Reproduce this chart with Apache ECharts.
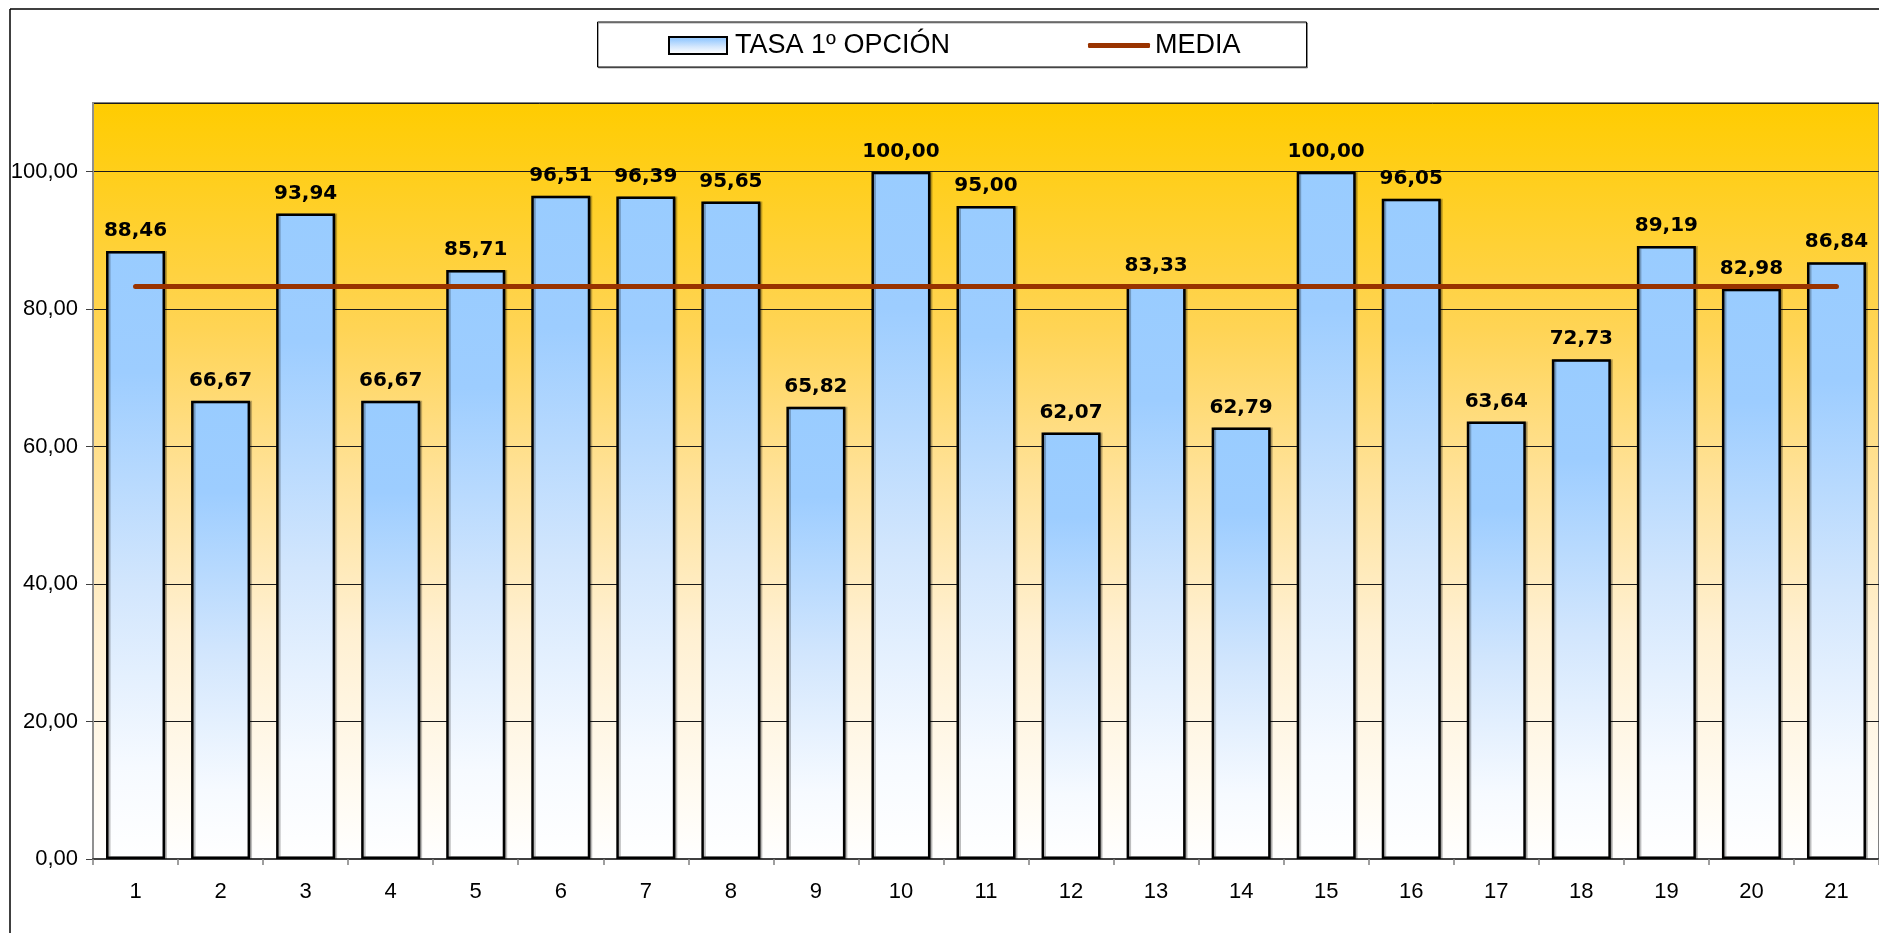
<!DOCTYPE html>
<html>
<head>
<meta charset="utf-8">
<title>Tasa 1ª opción</title>
<script src="https://cdn.jsdelivr.net/npm/echarts@6/dist/echarts.min.js"></script>
<style>
  html, body { margin: 0; padding: 0; background: #fff; }
  #chart { width: 1879px; height: 933px; }
</style>
</head>
<body>
<div id="chart"></div>
<script>
const categories = ['1', '2', '3', '4', '5', '6', '7', '8', '9', '10', '11',
  '12', '13', '14', '15', '16', '17', '18', '19', '20', '21'];

const tasaValues = [88.46, 66.67, 93.94, 66.67, 85.71, 96.51, 96.39, 95.65, 65.82, 100.00, 95.00,
  62.07, 83.33, 62.79, 100.00, 96.05, 63.64, 72.73, 89.19, 82.98, 86.84];

const mediaValues = [83.3, 83.3, 83.3, 83.3, 83.3, 83.3, 83.3, 83.3, 83.3, 83.3, 83.3,
  83.3, 83.3, 83.3, 83.3, 83.3, 83.3, 83.3, 83.3, 83.3, 83.3];

const yTicks = [0, 20, 40, 60, 80, 100];

const axisFont = "'Liberation Sans', Arial, sans-serif";
const fmt = (v) => Number(v).toFixed(2).replace('.', ',');

const barFill = new echarts.graphic.LinearGradient(0, 0, 0, 1, [
  { offset: 0, color: '#99CCFF' },
  { offset: 0.2, color: '#9DCDFF' },
  { offset: 0.55, color: '#D2E6FD' },
  { offset: 0.85, color: '#F6FAFF' },
  { offset: 1, color: '#FFFFFF' }
]);

const plotFill = new echarts.graphic.LinearGradient(0, 0, 0, 1, [
  { offset: 0, color: '#FFCC00' },
  { offset: 0.3, color: '#FFD455' },
  { offset: 0.5, color: '#FFE29A' },
  { offset: 0.7, color: '#FFF0D2' },
  { offset: 1, color: '#FFFFFF' }
]);

const chart = echarts.init(document.getElementById('chart'));

const option = {
  animation: false,
  backgroundColor: '#ffffff',
  graphic: [
    // outer chart frame (right and bottom edges fall outside the picture)
    { type: 'line', shape: { x1: 10, y1: 9, x2: 1879, y2: 9 }, style: { stroke: '#000', lineWidth: 1.5 }, z: 0 },
    { type: 'line', shape: { x1: 10, y1: 9, x2: 10, y2: 933 }, style: { stroke: '#000', lineWidth: 1.5 }, z: 0 },
    // legend box
    {
      type: 'rect', shape: { x: 597.5, y: 22, width: 709, height: 45 },
      style: { fill: '#fff', stroke: '#000', lineWidth: 1, shadowColor: 'rgba(0,0,0,0.35)', shadowOffsetX: 1, shadowOffsetY: 1 },
      z: 0
    }
  ],
  legend: [
    {
      data: [{
        name: 'TASA 1º OPCIÓN',
        icon: 'rect',
        itemStyle: { color: barFill, borderColor: '#000', borderWidth: 2 }
      }],
      left: 668, top: 32, padding: 0, itemWidth: 58, itemHeight: 17, selectedMode: false,
      textStyle: { fontFamily: axisFont, fontSize: 27, color: '#000', padding: [0, 0, 0, 3] }
    },
    {
      data: [{
        name: 'MEDIA',
        icon: 'roundRect',
        itemStyle: { color: '#993300', borderWidth: 0 }
      }],
      left: 1088, top: 32, padding: 0, itemWidth: 62, itemHeight: 5, selectedMode: false,
      textStyle: { fontFamily: axisFont, fontSize: 27, color: '#000', padding: [0, 0, 0, 0] }
    }
  ],
  grid: {
    left: 93, top: 103, width: 1789, height: 756,
    show: true, backgroundColor: plotFill, borderColor: '#808080', borderWidth: 2
  },
  xAxis: {
    type: 'category',
    data: categories,
    axisLine: { lineStyle: { color: '#404040', width: 2 } },
    axisTick: { show: true, length: 6, lineStyle: { color: '#808080', width: 1.5 } },
    axisLabel: { fontFamily: axisFont, fontSize: 22, color: '#000', margin: 22 }
  },
  yAxis: {
    type: 'value',
    min: 0, max: 110, interval: 20,
    axisLine: { show: true, lineStyle: { color: '#909090', width: 2 } },
    axisTick: { show: true, length: 7, lineStyle: { color: '#404040' } },
    splitLine: { show: true, lineStyle: { color: '#1a1a1a', width: 1 } },
    axisLabel: {
      fontFamily: axisFont, fontSize: 22, color: '#000', margin: 15,
      showMaxLabel: false,
      formatter: (v) => (yTicks.indexOf(v) >= 0 ? fmt(v) : '')
    }
  },
  series: [
    {
      name: 'TASA 1º OPCIÓN',
      type: 'bar',
      data: tasaValues,
      barWidth: 59,
      itemStyle: {
        color: barFill, borderColor: '#000', borderWidth: 2.5,
        shadowColor: 'rgba(0,0,0,0.25)', shadowOffsetX: 2, shadowOffsetY: 0
      },
      label: {
        show: true, position: 'top', distance: 10,
        fontFamily: "'DejaVu Sans', Verdana, sans-serif", fontWeight: 'bold', fontSize: 20, color: '#000',
        formatter: (p) => fmt(p.value)
      },
      z: 2
    },
    {
      name: 'MEDIA',
      type: 'line',
      data: mediaValues,
      symbol: 'none',
      lineStyle: { color: '#993300', width: 5, cap: 'round' },
      itemStyle: { color: '#993300' },
      z: 3
    }
  ]
};

chart.setOption(option);
</script>
</body>
</html>
